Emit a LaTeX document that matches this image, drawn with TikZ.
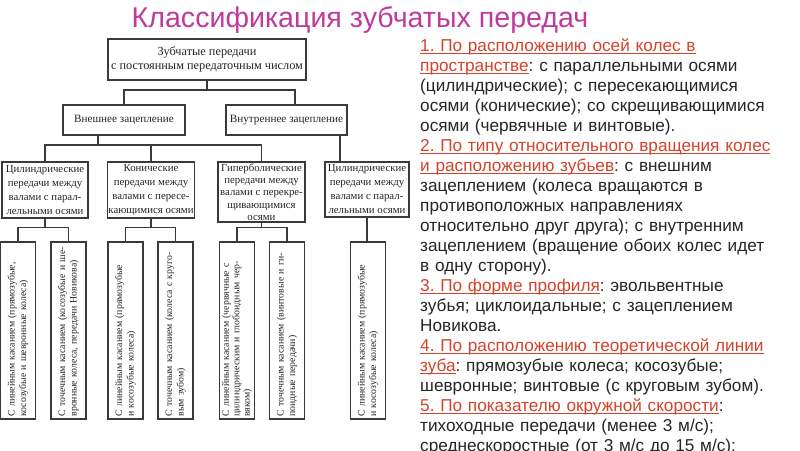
\documentclass[tikz,border=0pt]{standalone}
\usepackage{fontspec}
\setmainfont{Liberation Serif}
\newfontfamily\arialfont{Liberation Sans}
\definecolor{titlecol}{HTML}{C03A9C}
\definecolor{headcol}{HTML}{D4432C}
\definecolor{textcol}{HTML}{262626}
\definecolor{boxcol}{HTML}{3A3A3A}
\newcommand{\hd}[1]{\leavevmode{\color{headcol}\setbox0\hbox{#1}\rlap{\rule[-3pt]{\wd0}{1.1pt}}\box0}}

\begin{document}
\begin{tikzpicture}[x=1pt, y=-1pt,
  box/.style={draw=boxcol, line width=1.1pt, text=textcol, align=center, inner sep=1pt, font=\fontsize{10.8}{14}\selectfont},
  leaf/.style={draw=boxcol, line width=1.1pt, text=textcol, rotate=90, minimum width=177pt, minimum height=35pt, text width=172pt, align=left, inner sep=2.5pt, font=\fontsize{9.8}{11.5}\selectfont},
  link/.style={draw=boxcol, line width=1.1pt}]
  \fill[white] (0,0) rectangle (800,450);
  \useasboundingbox (0,0) rectangle (800,450);

  % Заголовок
  \node[anchor=base, text=titlecol, font=\arialfont\fontsize{28.6}{32}\selectfont] (title) at (360,27) {Классификация зубчатых передач};

  % Верхние уровни схемы
  \node[box, minimum width=198pt, minimum height=41pt, font=\fontsize{12.3}{14}\selectfont] (top) at (207,59.5) {Зубчатые передачи\\с постоянным передаточным числом};
  \node[box, minimum width=122pt, minimum height=30pt, font=\fontsize{11.2}{14}\selectfont] (ext) at (124,120) {Внешнее зацепление};
  \node[box, minimum width=121pt, minimum height=30pt, font=\fontsize{11.2}{14}\selectfont] (int) at (286.5,120) {Внутреннее зацепление};

  % Третий уровень
  \node[box, minimum width=86pt, minimum height=56pt] (c1) at (45,190) {Цилиндрические\\передачи между\\валами с парал-\\лельными осями};
  \node[box, minimum width=86pt, minimum height=56pt] (c2) at (151,190) {Конические\\передачи между\\валами с пересе-\\кающимися осями};
  \node[box, minimum width=87pt, minimum height=60pt, font=\fontsize{10.8}{12.2}\selectfont] (c3) at (261.5,192) {Гиперболические\\передачи между\\валами с перекре-\\щивающимися\\осями};
  \node[box, minimum width=84pt, minimum height=55pt] (c4) at (367,189.5) {Цилиндрические\\передачи между\\валами с парал-\\лельными осями};

  % Нижний уровень (повернутый текст)
  \node[leaf] (l1) at (18,330.5) {С линейным касанием (прямозубые,\\косозубые и шевронные колеса)};
  \node[leaf] (l2) at (68.5,330.5) {С точечным касанием (косозубые и ше-\\вронные колеса, передачи Новикова)};
  \node[leaf] (l3) at (125.5,330.5) {С линейным касанием (прямозубые\\и косозубые колеса)};
  \node[leaf] (l4) at (175.5,330.5) {С точечным касанием (колеса с круго-\\вым зубом)};
  \node[leaf, font=\fontsize{9.8}{10.5}\selectfont] (l5) at (237,330.5) {С линейным касанием (червячные с\\цилиндрическим и глобоидным чер-\\вяком)};
  \node[leaf] (l6) at (287,330.5) {С точечным касанием (винтовые и ги-\\поидные передачи)};
  \node[leaf] (l7) at (368,330.5) {С линейным касанием (прямозубые\\и косозубые колеса)};

  % Соединительные линии
  \coordinate (j1) at (206,90);
  \coordinate (j1r) at (295,90);
  \coordinate (j2) at (98,145);
  \draw[link] (top.south) -- (top.south |- j1);
  \draw[link] (ext.north) |- (j1) -- (j1r) -- (j1r |- int.north);
  \draw[link] (ext.south -| j2) -- (j2);
  \draw[link] (c1.north) |- (j2) -| (c3.north);
  \draw[link] (c2.north) -- (c2.north |- j2);
  \draw[link] ([xshift=53.5pt]int.south) -- ([xshift=53.5pt]int.south |- c4.north);
  \draw[link] (c1.south) -- ++(0,9) coordinate (k1);
  \draw[link] (l1.east) |- (k1) -| (l2.east);
  \draw[link] (c2.south) -- ++(0,9) coordinate (k2);
  \draw[link] (l3.east) |- (k2) -| (l4.east);
  \draw[link] (c3.south) -- ++(0,5) coordinate (k3);
  \draw[link] (l5.east) |- (k3) -| (l6.east);
  \draw[link] (c4.south) -- (c4.south |- l7.east);

  % Текст справа
  \node[anchor=base west, text width=385pt, align=left, inner sep=0pt, text=textcol, font=\arialfont\fontsize{17.2}{20}\selectfont\frenchspacing] (rules) at (420,51) {%
    \hd{1. По расположению осей колес в}\\
    \hd{пространстве}: с параллельными осями\\
    (цилиндрические); с пересекающимися\\
    осями (конические); со скрещивающимися\\
    осями (червячные и винтовые).\\
    \hd{2. По типу относительного вращения колес}\\
    \hd{и расположению зубьев}: с внешним\\
    зацеплением (колеса вращаются в\\
    противоположных направлениях\\
    относительно друг друга); с внутренним\\
    зацеплением (вращение обоих колес идет\\
    в одну сторону).\\
    \hd{3. По форме профиля}: эвольвентные\\
    зубья; циклоидальные; с зацеплением\\
    Новикова.\\
    \hd{4. По расположению теоретической линии}\\
    \hd{зуба}: прямозубые колеса; косозубые;\\
    шевронные; винтовые (с круговым зубом).\\
    \hd{5. По показателю окружной скорости}:\\
    тихоходные передачи (менее 3 м/с);\\
    среднескоростные (от 3 м/с до 15 м/с);};
\end{tikzpicture}
\end{document}
